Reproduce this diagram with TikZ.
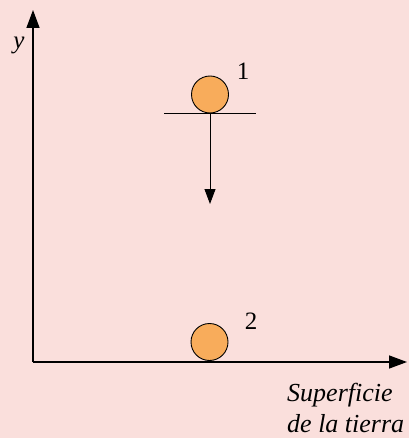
\documentclass[tikz,border=0pt]{standalone}
\usepackage{fontspec}
\setmainfont{Liberation Serif}
\usetikzlibrary{arrows.meta}
\definecolor{bgpink}{HTML}{FADFDC}
\definecolor{ballorange}{HTML}{F8AC5B}
\tikzset{
  axis/.style={line width=1.4pt,-{Triangle[length=18pt,width=13pt]}},
  ball/.style={circle,draw=black,line width=0.9pt,fill=ballorange,minimum size=37pt,inner sep=0pt},
  lbl/.style={font=\fontsize{25}{26}\selectfont\itshape,inner sep=0pt},
  surfstyle/.style={font=\fontsize{26}{31}\selectfont\itshape,inner sep=0pt,text depth=0pt},
  num/.style={font=\fontsize{25}{26}\selectfont,inner sep=0pt}
}
\begin{document}
\begin{tikzpicture}[x=1pt,y=-1pt]
\fill[bgpink] (0,0) rectangle (409,438);
\useasboundingbox (0,0) rectangle (409,438);
\coordinate (o) at (33,362);
\coordinate (ytip) at (33,10);
\coordinate (xtip) at (407,362);
\draw[axis] (o) -- (ytip);
\draw[axis] (o) -- (xtip);
\node[lbl] (ylab) at (19,45) {y};
\node[surfstyle,align=left,anchor=base west] (surf) at (287,432) {Superficie\\de la tierra};
\node[ball] (b1) at (210,94.5) {};
\coordinate (l1) at (164,113);
\coordinate (l2) at (256,113);
\draw[line width=0.9pt] (l1) -- (l2);
\coordinate (atip) at (210,204);
\draw[line width=0.9pt,-{Triangle[length=15pt,width=11pt]}] (b1.south) -- (atip);
\node[num] (n1) at (243,71) {1};
\node[ball] (b2) at (209.5,342) {};
\node[num] (n2) at (251,321) {2};
\end{tikzpicture}
\end{document}
